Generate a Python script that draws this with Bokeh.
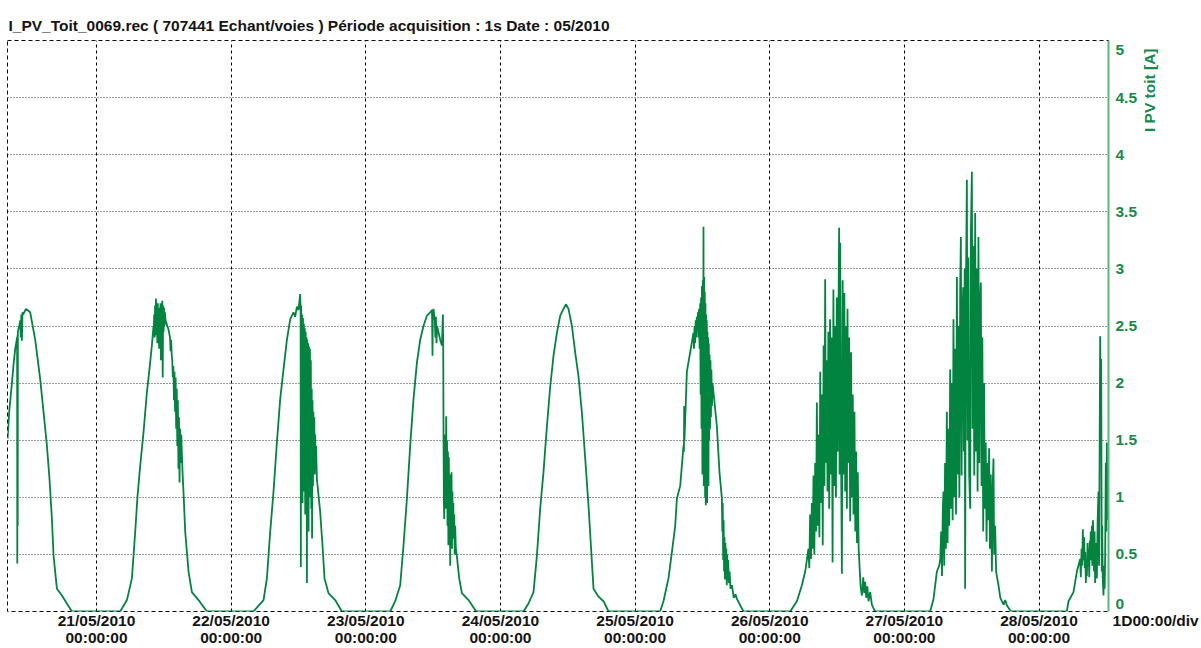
import numpy as np
import pandas as pd
from math import pi
from bokeh.plotting import figure
from bokeh.layouts import row
from bokeh.models import Range1d, FixedTicker, DatetimeTickFormatter, Label, ColumnDataSource
from bokeh.embed import file_html
from bokeh.resources import INLINE

# ---------------- texts ----------------
TITLE = "I_PV_Toit_0069.rec ( 707441 Echant/voies ) Période acquisition : 1s Date : 05/2010"
Y_LABEL = "I PV toit [A]"
X_DIV_LABEL = "1D00:00/div"

# ---------------- axes ----------------
x_start = "2010-05-20 08:08:00"
x_end = "2010-05-28 12:23:00"
x_tick_dates = ["2010-05-21", "2010-05-22", "2010-05-23", "2010-05-24",
                "2010-05-25", "2010-05-26", "2010-05-27", "2010-05-28"]
y_ticks = [0, 0.5, 1, 1.5, 2, 2.5, 3, 3.5, 4, 4.5, 5]
y_tick_labels = ["0", "0.5", "1", "1.5", "2", "2.5", "3", "3.5", "4", "4.5", "5"]

# ---------------- data: hour of day -> current [A] ----------------
t_20 = [8.14, 8.44, 8.92, 9.24, 9.51, 9.78, 9.85, 9.88, 9.92, 9.95, 9.98, 10.22, 10.40, 10.50, 10.60,
        10.70, 10.80, 10.90, 11.42, 12.18, 13.07, 13.97, 14.55, 15.16, 15.62, 16.05, 16.34, 16.94,
        17.83, 18.72, 19.62]
i_20 = [1.51, 1.75, 2.00, 2.18, 2.30, 2.38, 2.40, 0.42, 2.42, 0.75, 2.45, 2.50, 2.55, 2.40, 2.60,
        2.37, 2.62, 2.60, 2.65, 2.62, 2.38, 2.03, 1.75, 1.45, 1.16, 0.81, 0.49, 0.20,
        0.14, 0.07, 0.00]

t_21 = [4.22, 5.42, 6.31, 6.90, 7.31, 7.79, 8.38, 8.98, 9.39, 9.87, 10.16,
        10.20, 10.28, 10.36, 10.44, 10.52, 10.60, 10.68, 10.76, 10.84, 10.92,
        11.00, 11.08, 11.16, 11.24, 11.32, 11.40, 11.48, 11.56, 11.64, 11.72,
        11.80, 11.88, 11.96, 12.04, 12.12, 12.20, 12.30,
        12.83, 13.10, 13.20, 13.30, 13.40,
        13.50, 13.60, 13.70, 13.80, 13.90, 14.00, 14.10, 14.20, 14.30, 14.40,
        14.50, 14.60, 14.70, 14.80, 14.90, 15.00, 15.10, 15.20, 15.35,
        15.50, 15.81, 16.40, 17.00, 18.18, 19.67]
i_21 = [0.00, 0.10, 0.29, 0.70, 1.01, 1.28, 1.57, 1.92, 2.10, 2.33, 2.50,
        2.45, 2.60, 2.40, 2.68, 2.50, 2.74, 2.42, 2.65, 2.35, 2.70,
        2.48, 2.66, 2.30, 2.62, 2.45, 2.70, 2.20, 2.64, 2.40, 2.72,
        2.05, 2.68, 2.45, 2.66, 2.50, 2.62, 2.55,
        2.47, 2.40, 2.28, 2.38, 2.25,
        2.20, 2.05, 2.15, 1.85, 2.10, 1.75, 2.05, 1.60, 1.95, 1.45,
        1.85, 1.25, 1.70, 1.13, 1.60, 1.30, 1.55, 1.40, 1.20,
        1.05, 0.70, 0.35, 0.17, 0.10, 0.00]

t_22 = [3.98, 5.77, 6.37, 6.96, 7.55, 8.15, 8.74, 9.33, 9.94, 10.53, 11.11, 11.40, 11.72, 12.00,
        12.30, 12.38, 12.42, 12.48, 12.56, 12.64, 12.72, 12.80, 12.88, 12.96,
        13.04, 13.12, 13.20, 13.28, 13.36, 13.44, 13.50, 13.56, 13.64, 13.72,
        13.80, 13.88, 13.96, 14.04, 14.12, 14.20, 14.28, 14.36, 14.42, 14.50,
        14.58, 14.66, 14.74, 14.82, 14.90, 14.98, 15.06, 15.14, 15.28,
        15.87, 16.28, 16.64, 17.35, 18.54, 19.74]
i_22 = [0.00, 0.10, 0.29, 0.70, 1.05, 1.48, 1.86, 2.12, 2.38, 2.56, 2.62, 2.58, 2.67, 2.64,
        2.78, 2.62, 0.39, 2.68, 1.30, 2.60, 0.95, 2.57, 1.60, 2.52,
        1.05, 2.48, 0.85, 2.45, 1.40, 2.40, 0.25, 2.38, 1.20, 2.35,
        0.70, 2.32, 1.00, 2.30, 1.50, 2.20, 0.90, 1.95, 0.64, 1.85,
        1.10, 1.75, 1.25, 1.70, 1.20, 1.55, 1.28, 1.45, 1.16,
        0.87, 0.58, 0.29, 0.16, 0.10, 0.00]

t_23 = [4.35, 5.24, 6.13, 6.72, 7.33, 7.91, 8.50, 9.11, 9.70, 10.28,
        10.89, 11.48, 11.80, 11.89, 11.95, 12.07, 12.30, 12.40, 12.50, 12.60,
        12.70, 13.26, 13.56,
        13.74, 13.80, 13.86, 13.92, 13.98, 14.04, 14.10, 14.18, 14.26, 14.33,
        14.40, 14.48, 14.56, 14.64, 14.72, 14.80, 14.88, 14.96, 15.04, 15.12,
        15.20, 15.28, 15.36, 15.44, 15.52, 15.60, 15.68, 15.76, 15.84, 15.93,
        16.05, 16.24,
        16.65, 17.13, 18.31, 19.68]
i_23 = [0.00, 0.09, 0.23, 0.58, 0.99, 1.45, 1.86, 2.18, 2.38, 2.50,
        2.59, 2.62, 2.64, 2.24, 2.62, 2.65, 2.55, 2.40, 2.58, 2.35,
        2.50, 2.38, 2.33,
        2.60, 2.30, 1.48, 0.95, 0.81, 1.30, 0.90, 1.55, 1.00, 1.71,
        0.90, 1.50, 0.75, 1.40, 0.58, 1.35, 0.70, 1.20, 0.40, 1.10,
        0.60, 1.22, 0.55, 1.05, 0.70, 0.95, 0.64, 0.85, 0.50, 0.75,
        0.55, 0.48,
        0.29, 0.16, 0.10, 0.00]

t_24 = [4.11, 5.00, 5.89, 6.50, 7.08, 7.67, 8.28, 8.87, 9.46, 10.06, 10.65, 11.24, 11.67,
        12.13, 12.74, 13.32, 13.91, 14.52, 15.11, 15.69, 16.12, 16.59, 17.48, 18.37, 19.26]
i_24 = [0.00, 0.07, 0.17, 0.49, 0.90, 1.22, 1.62, 1.97, 2.24, 2.44, 2.59, 2.65, 2.69,
        2.65, 2.50, 2.27, 2.06, 1.74, 1.34, 0.93, 0.58, 0.20, 0.13, 0.09, 0.00]

t_25 = [4.47, 5.06, 5.95, 6.56, 7.15, 7.45, 8.04, 8.63, 8.70, 8.75, 8.80, 9.23, 9.82,
        10.40, 10.50, 10.60, 10.70, 10.80, 10.90, 11.00, 11.10, 11.20, 11.30,
        11.40, 11.50, 11.60, 11.68, 11.76, 11.84, 11.92, 12.00, 12.08, 12.14,
        12.19, 12.24, 12.30, 12.36, 12.42, 12.48, 12.54, 12.60, 12.66, 12.72,
        12.78, 12.84, 12.90, 12.96, 13.02, 13.08, 13.14, 13.20, 13.28, 13.36,
        13.44, 13.52, 13.60, 13.70, 13.80, 13.97,
        14.58, 15.04, 15.47,
        15.55, 15.62, 15.70, 15.78, 15.86, 15.94, 16.02, 16.10, 16.18, 16.26,
        16.34, 16.42, 16.50, 16.60, 16.70, 16.85, 17.00,
        17.25, 17.60, 17.90, 18.14, 19.32]
i_25 = [0.00, 0.09, 0.29, 0.52, 0.75, 0.99, 1.10, 1.45, 1.40, 1.80, 1.50, 2.10, 2.27,
        2.44, 2.30, 2.50, 2.35, 2.55, 2.40, 2.58, 2.45, 2.62, 2.40,
        2.65, 2.30, 2.70, 1.90, 2.75, 1.60, 2.85, 1.20, 2.90, 1.40,
        3.37, 1.10, 2.93, 1.30, 2.80, 1.00, 2.70, 0.93, 2.60, 1.20,
        2.55, 0.95, 2.45, 1.40, 2.40, 1.10, 2.35, 1.50, 2.25, 1.60,
        2.20, 1.70, 2.12, 1.80, 2.00, 1.92,
        1.62, 1.22, 0.99,
        0.70, 0.95, 0.45, 0.80, 0.35, 0.65, 0.28, 0.60, 0.35, 0.55,
        0.23, 0.50, 0.30, 0.45, 0.25, 0.35, 0.20,
        0.23, 0.12, 0.15, 0.11, 0.00]

t_26 = [3.65, 4.84, 5.73, 6.32,
        6.90, 7.05, 7.20, 7.35, 7.50, 7.65, 7.80, 7.95, 8.10, 8.25,
        8.40, 8.55, 8.70, 8.85, 9.00, 9.15, 9.30, 9.45, 9.60, 9.75,
        9.88, 10.00, 10.15, 10.30, 10.45, 10.60, 10.75, 10.90, 11.05, 11.20,
        11.35, 11.50, 11.65, 11.80, 11.95, 12.10, 12.25, 12.37, 12.45, 12.55,
        12.70, 12.86, 13.00, 13.15, 13.30, 13.45, 13.60, 13.75, 13.86, 14.00,
        14.15, 14.34, 14.50, 14.65, 14.80, 14.93, 15.10, 15.25, 15.40, 15.55,
        15.70, 15.85,
        16.00, 16.20, 16.43, 16.66, 16.85, 17.01, 17.20, 17.40, 17.60, 17.90,
        18.20, 18.49, 18.80]
i_26 = [0.00, 0.09, 0.23, 0.35,
        0.55, 0.38, 0.85, 0.46, 0.95, 0.55, 1.19, 0.50, 1.30, 0.70,
        1.83, 0.75, 1.55, 0.65, 2.10, 0.95, 1.90, 0.58, 2.33, 1.10,
        2.91, 1.30, 2.20, 1.05, 2.45, 0.90, 2.56, 1.20, 2.40, 0.43,
        2.82, 1.10, 2.50, 1.00, 2.75, 1.40, 2.60, 3.36, 1.20, 3.23,
        1.50, 0.33, 2.90, 1.20, 2.79, 1.05, 2.50, 0.90, 2.65, 1.30,
        2.40, 0.79, 2.27, 1.00, 1.90, 0.85, 1.75, 0.70, 1.40, 0.60,
        1.22, 0.55,
        0.40, 0.22, 0.14, 0.30, 0.16, 0.26, 0.12, 0.22, 0.09, 0.17,
        0.06, 0.03, 0.00]

t_27 = [4.60, 5.19, 5.79, 6.20,
        6.40, 6.55, 6.70, 6.85, 6.97, 7.10, 7.25, 7.40, 7.57, 7.70,
        7.85, 8.00, 8.16, 8.30, 8.45, 8.60, 8.75, 8.90, 9.05, 9.20,
        9.36, 9.50, 9.65, 9.80, 9.95, 10.07, 10.20, 10.35, 10.48, 10.60,
        10.75, 10.83, 10.95, 11.14, 11.25, 11.40, 11.55, 11.73, 11.85, 12.03,
        12.15, 12.30, 12.45, 12.62, 12.75, 12.90, 13.05, 13.20, 13.35, 13.50,
        13.63, 13.75, 13.90, 14.05, 14.20, 14.35, 14.50, 14.65, 14.80, 14.95,
        15.10, 15.25, 15.40, 15.60, 15.75, 15.88, 16.00, 16.18, 16.35, 16.49,
        16.77, 17.10, 17.38, 17.70, 17.97, 18.30, 18.86, 19.10]
i_27 = [0.00, 0.11, 0.35, 0.40,
        0.46, 0.70, 0.31, 0.90, 1.05, 0.40, 1.30, 0.55, 1.75, 0.60,
        1.60, 0.75, 2.12, 0.90, 2.00, 0.80, 2.56, 1.00, 2.30, 0.85,
        2.93, 1.20, 2.50, 1.00, 2.85, 3.28, 1.19, 2.60, 2.84, 1.40,
        3.00, 0.20, 2.70, 3.78, 1.50, 3.10, 1.20, 0.90, 3.30, 3.85,
        1.60, 3.20, 1.19, 3.49, 1.40, 3.00, 1.05, 3.28, 1.30, 2.70,
        2.88, 1.10, 2.40, 0.70, 2.00, 0.90, 1.48, 0.61, 1.30, 0.80,
        1.43, 0.55, 1.20, 0.35, 1.10, 1.34, 0.50, 0.75, 0.35, 0.31,
        0.23, 0.12, 0.09, 0.06, 0.10, 0.05, 0.01, 0.00]

t_28 = [4.96, 5.25, 6.14, 6.75,
        7.33, 7.45, 7.58, 7.70, 7.81, 7.92, 8.05, 8.15, 8.23, 8.35,
        8.45, 8.53, 8.65, 8.75, 8.85, 8.95, 9.05, 9.12, 9.22, 9.32,
        9.42, 9.50, 9.60, 9.70, 9.80, 9.90, 10.00, 10.10, 10.20, 10.31,
        10.45, 10.60, 10.70, 10.80, 10.90, 10.98, 11.08, 11.18, 11.26, 11.35,
        11.49, 11.60, 11.70, 11.79, 11.90, 12.00, 12.10, 12.20, 12.33]
i_28 = [0.00, 0.09, 0.17, 0.35,
        0.46, 0.30, 0.55, 0.40, 0.72, 0.45, 0.65, 0.38, 0.52, 0.25,
        0.45, 0.31, 0.60, 0.40, 0.55, 0.30, 0.62, 0.46, 0.70, 0.45,
        0.75, 0.40, 0.80, 0.66, 0.35, 0.70, 0.25, 0.60, 0.40, 0.29,
        0.80, 1.05, 0.40, 1.40, 2.41, 1.70, 2.21, 0.35, 0.75, 0.30,
        0.14, 0.40, 0.20, 0.50, 1.30, 0.70, 1.48, 0.80, 1.05]

days = [("2010-05-20", t_20, i_20), ("2010-05-21", t_21, i_21), ("2010-05-22", t_22, i_22),
        ("2010-05-23", t_23, i_23), ("2010-05-24", t_24, i_24), ("2010-05-25", t_25, i_25),
        ("2010-05-26", t_26, i_26), ("2010-05-27", t_27, i_27), ("2010-05-28", t_28, i_28)]

xs, ys = [], []
for d, t, v in days:
    if len(t) != len(v):
        raise ValueError(f"{d}: {len(t)} times vs {len(v)} values")
    xs.append(np.asarray(pd.Timestamp(d) + pd.to_timedelta(np.array(t), unit="h")))
    ys.append(np.array(v, dtype=float))
src = ColumnDataSource(dict(x=np.concatenate(xs), y=np.concatenate(ys)))

# ---------------- style / layout ----------------
GREEN = "#00843f"
GREEN_TXT = "#168a4b"
GREEN_AXIS = "#5cb67f"
FONT = "Liberation Sans"
TXT = "#141414"
FS = "15.5px"

W_MAIN, W_SIDE, H = 1112, 89, 648
BL, BT, BB, BR = 7, 40, 35, 4


def style_bottom_axis(ax):
    ax.axis_line_color = None
    ax.major_tick_line_color = None
    ax.minor_tick_line_color = None
    ax.major_tick_out = 0
    ax.major_tick_in = 0
    ax.minor_tick_out = 0
    ax.major_label_standoff = 0
    ax.major_label_text_font = FONT
    ax.major_label_text_font_size = FS
    ax.major_label_text_font_style = "bold"
    ax.major_label_text_color = TXT
    ax.major_label_text_line_height = 1.0


p = figure(width=W_MAIN, height=H, output_backend="svg", toolbar_location=None,
           x_axis_type="datetime", y_axis_location="right", title=TITLE,
           x_range=Range1d(pd.Timestamp(x_start), pd.Timestamp(x_end)),
           y_range=Range1d(y_ticks[0], y_ticks[-1]),
           min_border_left=BL, min_border_right=BR, min_border_top=BT, min_border_bottom=BB)
p.background_fill_color = "white"
p.border_fill_color = "white"
p.outline_line_color = "black"
p.outline_line_dash = "4 3"
p.outline_line_width = 1

p.title.align = "left"
p.title.offset = 1
p.title.standoff = 13
p.title.text_font = FONT
p.title.text_font_size = FS
p.title.text_font_style = "bold"
p.title.text_color = TXT

p.line("x", "y", source=src, color=GREEN, line_width=1.8)

# x axis (dates)
midnights = [pd.Timestamp(d).value / 1e6 for d in x_tick_dates]
xa = p.xaxis[0]
xa.ticker = FixedTicker(ticks=midnights)
fmt = "%d/%m/%Y\n%H:%M:%S"
xa.formatter = DatetimeTickFormatter(microseconds=fmt, milliseconds=fmt, seconds=fmt, minsec=fmt,
                                     minutes=fmt, hourmin=fmt, hours=fmt, days=fmt, months=fmt,
                                     years=fmt)
style_bottom_axis(xa)

# right axis: green line at the frame edge (its labels sit in the side strip)
ya = p.yaxis[0]
ya.ticker = FixedTicker(ticks=[])
ya.axis_line_color = GREEN_AXIS
ya.axis_line_width = 2
ya.major_tick_line_color = None
ya.minor_tick_line_color = None
ya.major_tick_out = 0
ya.major_tick_in = 0
ya.minor_tick_out = 0
ya.major_label_standoff = 0

# grids
p.xgrid.ticker = FixedTicker(ticks=midnights)
p.xgrid.grid_line_color = "black"
p.xgrid.grid_line_dash = "3 3"
p.xgrid.grid_line_width = 1
p.ygrid.ticker = FixedTicker(ticks=y_ticks[1:-1])
p.ygrid.grid_line_color = "#333333"
p.ygrid.grid_line_dash = "1 2"
p.ygrid.grid_line_width = 1

# ---------------- side strip (frame aligned with the main one by the row layout) ----------------
side = figure(width=W_SIDE, height=H, output_backend="svg", toolbar_location=None,
              y_axis_location=None,
              x_range=Range1d(0, W_SIDE), y_range=Range1d(y_ticks[0], y_ticks[-1]),
              min_border_left=0, min_border_right=0, min_border_top=BT, min_border_bottom=BB)
side.outline_line_color = None
side.background_fill_color = "white"
side.border_fill_color = "white"
side.grid.visible = False

# division label as the strip's own bottom tick label, level with the date labels
DIV_POS = 43
sa = side.xaxis[0]
sa.ticker = FixedTicker(ticks=[DIV_POS])
sa.major_label_overrides = {DIV_POS: X_DIV_LABEL}
style_bottom_axis(sa)

# right-axis tick labels (ends nudged inside the frame like the original)
y_off = [-8 if v == y_ticks[0] else (9 if v == y_ticks[-1] else 0) for v in y_ticks]
tick_src = ColumnDataSource(dict(y=y_ticks, text=y_tick_labels, off=y_off))
side.text(x=3, y="y", text="text", y_offset="off", source=tick_src,
          text_font={"value": FONT}, text_font_size={"value": FS},
          text_font_style="bold", text_color=GREEN_TXT,
          text_align="left", text_baseline="middle")

side.add_layout(Label(x=37, y=4.93, x_units="screen", y_units="data", text=Y_LABEL,
                      angle=pi / 2, text_font=FONT, text_font_size=FS,
                      text_font_style="bold", text_color=GREEN_TXT,
                      text_baseline="middle", text_align="right"))

layout = row(p, side)
open("out.html", "w").write(file_html(layout, INLINE))
